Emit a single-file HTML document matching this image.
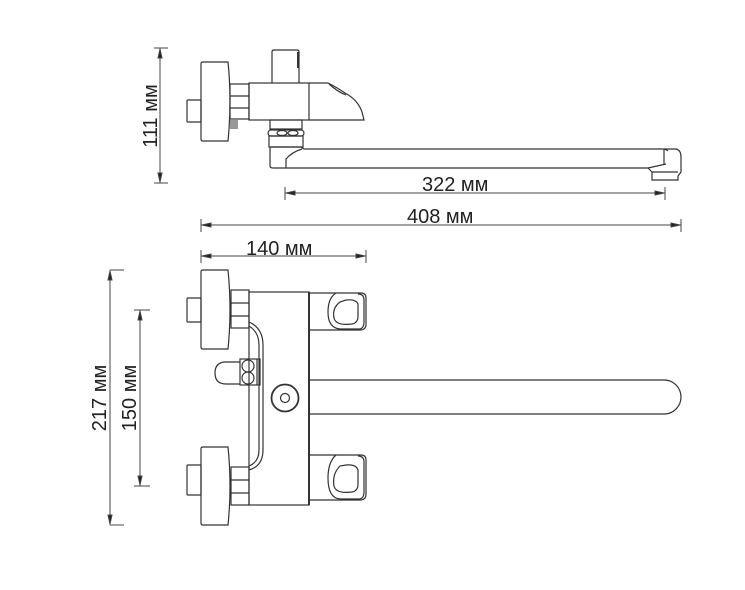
<!DOCTYPE html>
<html><head><meta charset="utf-8"><style>
html,body{margin:0;padding:0;background:#fff;}
svg{display:block;}
text{font-family:"Liberation Sans",sans-serif;font-size:20px;fill:#222;}
</style></head><body>
<svg width="745" height="590" viewBox="0 0 745 590" xmlns="http://www.w3.org/2000/svg">
<g fill="none" stroke="#333" stroke-width="1.2">
<!-- TOP VIEW -->
<rect x="187" y="100" width="14" height="22" rx="1"/>
<path d="M203 62 H228 Q232 100 228 141 H203 Q201 141 201 139 V64 Q201 62 203 62Z"/>
<rect x="230" y="84" width="19" height="35"/>
<line x1="230" y1="96" x2="249" y2="96"/><line x1="230" y1="108" x2="249" y2="108"/>
<path d="M231 120 v9 M233 120 v9 M235 120 v9 M237 120 v9" stroke-width="1"/>
<rect x="249" y="83" width="60" height="37"/>
<path d="M272 83 V52 Q272 50 274 50 H297 Q299 50 299 52 V83"/>
<line x1="298" y1="52" x2="298" y2="68" stroke-width="2"/>
<path d="M309 83 H328 Q338 88 345 93 Q358 100 362 112 L364 120 H309"/>
<path d="M329 84 Q338 92 346 95"/>
<rect x="270" y="120" width="32" height="9"/>
<rect x="268" y="130" width="36" height="6" rx="3"/>
<ellipse cx="282" cy="133" rx="5" ry="2.5"/><ellipse cx="293" cy="133" rx="5" ry="2.5"/>
<rect x="269" y="136" width="34" height="11"/>
<path d="M270 147 H301 L304 149 H662 Q666 149 668 151"/>
<path d="M270 147 V166 Q270 168 273 168 H286 V159 Q292 152 302 149"/>
<line x1="286" y1="168" x2="648" y2="168"/>
<path d="M648 168 L666 164"/>
<path d="M664 149 H676 Q681 150 681 157 V172 L678 176 V180 H652 V172 L648 168"/>
<line x1="652" y1="172" x2="678" y2="172"/>
<line x1="664" y1="149" x2="664" y2="165"/>

<!-- BOTTOM VIEW -->
<rect x="187" y="298" width="14" height="24" rx="1"/>
<path d="M203 270 H228 Q232 310 228 349 H203 Q201 349 201 347 V272 Q201 270 203 270Z"/>
<rect x="231" y="290" width="18" height="38"/>
<line x1="231" y1="303" x2="249" y2="303"/><line x1="231" y1="316" x2="249" y2="316"/>
<rect x="187" y="465" width="14" height="30" rx="1"/>
<path d="M203 447 H228 Q232 486 228 525 H203 Q201 525 201 523 V449 Q201 447 203 447Z"/>
<rect x="231" y="467" width="18" height="38"/>
<line x1="231" y1="480" x2="249" y2="480"/><line x1="231" y1="493" x2="249" y2="493"/>
<rect x="249" y="292" width="60" height="213"/>
<path d="M249 322 Q263 328 263 345 V450 Q263 466 249 470"/>
<path d="M249 326 Q259 332 259 345 V450 Q259 462 249 466"/>
<rect x="240" y="359" width="20" height="26"/>
<line x1="257" y1="359" x2="257" y2="385"/>
<circle cx="248" cy="366" r="6"/><circle cx="248" cy="378" r="6"/>
<path d="M240 362 H226 Q215 362 215 373 Q215 384 226 384 H240"/>
<circle cx="285" cy="398" r="13.5" stroke-width="1.8"/>
<circle cx="285" cy="398" r="4.5"/>
<path d="M309 380 H664 A17 17 0 0 1 664 414 H309"/>
<line x1="309" y1="292" x2="309" y2="505" stroke-width="2"/>
<path d="M309 293 H361 Q366 293 366 298 V324 Q366 330 360 330 H309"/>
<path d="M336 293 Q328 298 328 312 Q328 328 340 329 H360 Q364 328 364 322 V300 Q364 294 358 294"/>
<path d="M340 302 Q332 308 334 318 Q336 326 352 324 Q358 323 358 316 V304 Q356 299 346 300Z"/>
<path d="M309 455 H361 Q366 455 366 460 V494 Q366 500 360 500 H309"/>
<path d="M336 455 Q328 462 328 478 Q328 498 340 499 H360 Q364 498 364 492 V462 Q364 456 358 456"/>
<path d="M340 466 Q332 474 334 486 Q336 494 352 492 Q358 491 358 484 V470 Q356 464 346 465Z"/>
</g>

<!-- DIMENSIONS -->
<g stroke="#444" stroke-width="1" fill="#222">
<line x1="160" y1="48" x2="160" y2="183"/>
<line x1="154" y1="48" x2="168" y2="48"/><line x1="154" y1="183" x2="168" y2="183"/>
<path d="M160 49 l-2 9 h4z"/><path d="M160 182 l-2 -9 h4z"/>
<line x1="285" y1="193" x2="665" y2="193"/>
<line x1="285" y1="187" x2="285" y2="200"/><line x1="665" y1="187" x2="665" y2="200"/>
<path d="M286 193 l9 -2 v4z"/><path d="M664 193 l-9 -2 v4z"/>
<line x1="201" y1="225" x2="681" y2="225"/>
<line x1="201" y1="219" x2="201" y2="232"/><line x1="681" y1="219" x2="681" y2="232"/>
<path d="M202 225 l9 -2 v4z"/><path d="M680 225 l-9 -2 v4z"/>
<line x1="201" y1="256" x2="366" y2="256"/>
<line x1="201" y1="250" x2="201" y2="263"/><line x1="366" y1="250" x2="366" y2="263"/>
<path d="M202 256 l9 -2 v4z"/><path d="M365 256 l-9 -2 v4z"/>
<line x1="110" y1="270" x2="110" y2="525"/>
<line x1="110" y1="270" x2="124" y2="270"/><line x1="110" y1="525" x2="124" y2="525"/>
<path d="M110 271 l-2 9 h4z"/><path d="M110 524 l-2 -9 h4z"/>
<line x1="140" y1="310" x2="140" y2="486"/>
<line x1="134" y1="310" x2="150" y2="310"/><line x1="134" y1="486" x2="150" y2="486"/>
<path d="M140 311 l-2 9 h4z"/><path d="M140 485 l-2 -9 h4z"/>
</g>
<text x="422" y="191">322 мм</text>
<text x="407" y="223">408 мм</text>
<text x="246" y="255">140 мм</text>
<text transform="translate(157,116) rotate(-90)" text-anchor="middle">111 мм</text>
<text transform="translate(106,398) rotate(-90)" text-anchor="middle">217 мм</text>
<text transform="translate(136,398) rotate(-90)" text-anchor="middle">150 мм</text>
</svg>
</body></html>
